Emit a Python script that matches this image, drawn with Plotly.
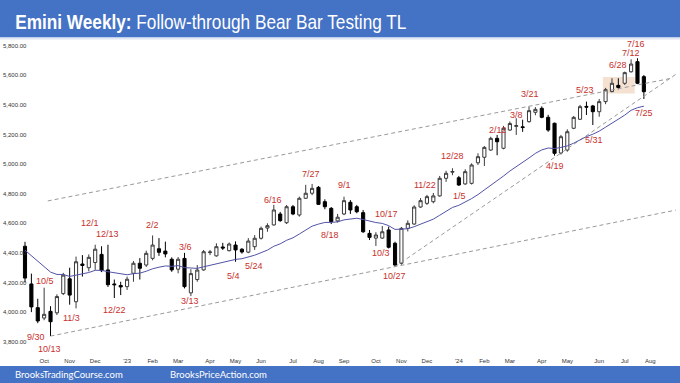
import plotly.graph_objects as go
import pandas as pd

# ---------------- data (weekly Emini, back-adjusted) ----------------
first_week = "2022-09-12"
opens = [4445, 4190, 4030, 3960, 4005, 3995, 4125, 4225, 4070, 4325,
         4300, 4335, 4390, 4285, 4190, 4180, 4172, 4262, 4330, 4318,
         4363, 4428, 4412, 4357, 4290, 4363, 4130, 4220, 4285, 4402,
         4380, 4440, 4415, 4453, 4425, 4405, 4442, 4499, 4568, 4589,
         4663, 4604, 4712, 4656, 4769, 4803, 4843, 4746, 4701, 4616,
         4663, 4742, 4712, 4672, 4532, 4500, 4500, 4555, 4465, 4330,
         4566, 4595, 4710, 4735, 4746, 4785, 4904, 4945, 4908, 4866,
         4870, 5009, 5046, 5095, 5174, 5107, 5230, 5255, 5252, 5287,
         5350, 5377, 5316, 5276, 5075, 5095, 5242, 5303, 5390, 5393,
         5354, 5422, 5490, 5532, 5546, 5624, 5692, 5591]
highs = [4475, 4260, 4090, 4165, 4040, 4120, 4265, 4300, 4375, 4385,
         4390, 4455, 4445, 4455, 4220, 4205, 4240, 4345, 4365, 4415,
         4518, 4500, 4476, 4370, 4372, 4400, 4290, 4318, 4420, 4420,
         4465, 4468, 4470, 4478, 4432, 4500, 4520, 4578, 4600, 4725,
         4677, 4724, 4724, 4780, 4860, 4866, 4852, 4762, 4710, 4663,
         4780, 4757, 4724, 4690, 4555, 4540, 4582, 4578, 4476, 4575,
         4620, 4722, 4770, 4792, 4805, 4920, 4955, 4972, 4920, 4965,
         5005, 5073, 5122, 5185, 5197, 5258, 5288, 5310, 5300, 5390,
         5385, 5390, 5333, 5280, 5197, 5235, 5325, 5400, 5422, 5400,
         5440, 5515, 5580, 5580, 5625, 5708, 5715, 5602]
lows = [4200, 4000, 3925, 3945, 3838, 3980, 4115, 4050, 4025, 4240,
        4275, 4285, 4270, 4170, 4095, 4115, 4150, 4205, 4220, 4305,
        4350, 4380, 4370, 4272, 4262, 4160, 4108, 4205, 4280, 4385,
        4375, 4420, 4410, 4340, 4395, 4398, 4420, 4490, 4543, 4585,
        4610, 4595, 4655, 4645, 4765, 4790, 4725, 4695, 4595, 4605,
        4655, 4663, 4668, 4535, 4487, 4447, 4495, 4430, 4307, 4320,
        4545, 4590, 4705, 4724, 4735, 4780, 4880, 4925, 4852, 4860,
        4862, 4994, 4987, 5090, 5060, 5100, 5225, 5197, 5218, 5280,
        5330, 5310, 5218, 5057, 5065, 5084, 5236, 5298, 5332, 5264,
        5320, 5405, 5485, 5505, 5535, 5618, 5540, 5440]
closes = [4230, 4035, 3940, 3985, 3935, 4105, 4250, 4115, 4340, 4315,
          4370, 4425, 4280, 4185, 4185, 4170, 4222, 4330, 4296, 4397,
          4453, 4404, 4393, 4285, 4357, 4172, 4260, 4284, 4408, 4406,
          4442, 4433, 4460, 4420, 4406, 4480, 4499, 4566, 4584, 4690,
          4618, 4712, 4663, 4769, 4803, 4836, 4728, 4712, 4611, 4641,
          4753, 4690, 4678, 4543, 4505, 4521, 4543, 4438, 4318, 4566,
          4600, 4710, 4753, 4780, 4785, 4904, 4938, 4950, 4859, 4949,
          4994, 5050, 5113, 5174, 5151, 5242, 5274, 5260, 5247, 5361,
          5370, 5316, 5230, 5073, 5185, 5219, 5316, 5388, 5385, 5354,
          5422, 5503, 5546, 5518, 5618, 5676, 5546, 5489]

ema_period = 20
ema_start_value = 4418  # value of the moving average at the first bar, as drawn

# tick labels
tick_weeks = ["2022-10-03", "2022-10-31", "2022-11-28", "2023-01-02", "2023-01-30",
              "2023-02-27", "2023-04-03", "2023-05-01", "2023-05-29", "2023-07-03",
              "2023-07-31", "2023-08-28", "2023-10-02", "2023-10-30", "2023-11-27",
              "2024-01-01", "2024-01-29", "2024-02-26", "2024-04-01", "2024-04-29",
              "2024-06-03", "2024-07-01", "2024-07-29"]
tick_text = ["Oct", "Nov", "Dec", "'23", "Feb", "Mar", "Apr", "May", "Jun", "Jul",
             "Aug", "Sep", "Oct", "Nov", "Dec", "'24", "Feb", "Mar", "Apr", "May",
             "Jun", "Jul", "Aug"]
price_ticks = [3800, 4000, 4200, 4400, 4600, 4800, 5000, 5200, 5400, 5600, 5800]

# swing-point labels: text, bar index, price level of label
label_text = ["9/30", "10/13", "10/5", "11/3", "12/1", "12/13", "12/22", "2/2", "3/6",
              "3/13", "5/4", "5/24", "6/16", "7/27", "8/18", "9/1", "10/3", "10/17",
              "10/27", "11/22", "12/28", "1/5", "2/12", "3/8", "3/21", "4/19", "5/23",
              "5/31", "6/28", "7/12", "7/16", "7/25"]
label_bar = [2, 4, 3, 7, 11, 13, 14, 20, 25, 26, 33, 36, 39, 45, 48, 50, 55, 57,
             58, 63, 67, 68, 74, 77, 79, 83, 88, 89, 93, 95, 96, 97]
label_price = [3832, 3754, 4212, 3960, 4602, 4528, 4014, 4589, 4440, 4072, 4244,
               4312, 4757, 4930, 4518, 4859, 4397, 4666, 4244, 4859, 5055, 4785,
               5230, 5335, 5474, 4984, 5501, 5163, 5673, 5751, 5812, 5345]
label_dx = [-2, -1.5, 1, 2, -5, 0, 0, -0.5, 0.5, -1, -1.6, -0.7, -0.8, -1, -1, 0,
            5, -1.7, -1, -2, 0, 0.3, 1, 0, 1, 0.6, -1, 1, 0, 0, -1, 0]

# trend lines: anchor points (date, price) and date to extend to
tl_end = "2024-08-26"
lower_tl = [("2022-10-10", 3838), ("2023-10-23", 4307)]
steep_tl = [("2023-10-23", 4307), ("2024-04-15", 5045)]
upper_tl = [("2022-10-07", 4751), ("2024-08-23", 5582)]

# trading-range box
box_x = ["2024-06-07", "2024-07-12"]
box_y = [5477, 5588]

# ---------------- build ----------------
dates = pd.date_range(first_week, periods=len(opens), freq="7D")

ema = [ema_start_value]
alpha = 2.0 / (ema_period + 1)
for c in closes[1:]:
    ema.append(ema[-1] + alpha * (c - ema[-1]))


def extend(anchors, end):
    (d0, p0), (d1, p1) = anchors
    t0, t1, te = pd.Timestamp(d0), pd.Timestamp(d1), pd.Timestamp(end)
    slope = (p1 - p0) / (t1 - t0).total_seconds()
    return [t0, te], [p0, p0 + slope * (te - t0).total_seconds()]


fig = go.Figure()

fig.add_shape(type="rect", xref="x", yref="y", x0=box_x[0], x1=box_x[1],
              y0=box_y[0], y1=box_y[1], fillcolor="rgba(240,215,195,0.75)",
              line_width=0, layer="below")

tl_style = dict(color="#9a9a9a", width=1, dash="4px,3px")
for anchors in (lower_tl, steep_tl):
    xs, ys = extend(anchors, tl_end)
    fig.add_trace(go.Scatter(x=xs, y=ys, mode="lines", line=tl_style,
                             hoverinfo="skip", showlegend=False))
fig.add_trace(go.Scatter(x=[pd.Timestamp(upper_tl[0][0]), pd.Timestamp(upper_tl[1][0])],
                         y=[upper_tl[0][1], upper_tl[1][1]], mode="lines",
                         line=tl_style, hoverinfo="skip", showlegend=False))

fig.add_trace(go.Scatter(x=dates, y=ema, mode="lines",
                         line=dict(color="#5252a8", width=1),
                         hoverinfo="skip", showlegend=False))

fig.add_trace(go.Candlestick(
    x=dates, open=opens, high=highs, low=lows, close=closes,
    increasing=dict(fillcolor="white", line=dict(color="#3a3a3a", width=1)),
    decreasing=dict(fillcolor="black", line=dict(color="black", width=1)),
    whiskerwidth=0, showlegend=False))

label_font = dict(family="Liberation Sans, Arial, sans-serif", size=9, color="#c8302c")
for t, b, p, dx in zip(label_text, label_bar, label_price, label_dx):
    fig.add_annotation(x=dates[b], y=p, text=t, showarrow=False, xshift=dx,
                       font=label_font, xanchor="center", yanchor="middle")

# header and footer bands
H_PLOT_TOP, H_PLOT_BOTTOM = 40, 352
PLOT_H = H_PLOT_BOTTOM - H_PLOT_TOP


def py(pix):
    return (H_PLOT_BOTTOM - pix) / PLOT_H


fig.add_shape(type="rect", xref="paper", yref="paper", x0=0, x1=1,
              y0=py(37.5), y1=py(-2), fillcolor="#4472c4", line_width=0)
fig.add_shape(type="rect", xref="paper", yref="paper", x0=0, x1=1,
              y0=py(39.5), y1=py(37.5), fillcolor="#dfe7f4", line_width=0)
fig.add_shape(type="rect", xref="paper", yref="paper", x0=0, x1=1,
              y0=py(386), y1=py(366), fillcolor="#4472c4", line_width=0)

fig.add_annotation(xref="paper", yref="paper", x=13 / 680, y=py(21),
                   xanchor="left", yanchor="middle", showarrow=False,
                   text="<b>Emini Weekly:</b> Follow-through Bear Bar Testing TL",
                   font=dict(family="Liberation Sans, Arial, sans-serif", size=21,
                             color="white"))
foot_font = dict(family="Lato, Open Sans, sans-serif", size=9.5, color="white")
fig.add_annotation(xref="paper", yref="paper", x=12.5 / 680, y=py(374.5),
                   xanchor="left", yanchor="middle", showarrow=False,
                   text="BrooksTradingCourse.com", font=foot_font)
fig.add_annotation(xref="paper", yref="paper", x=168 / 680, y=py(374.5),
                   xanchor="left", yanchor="middle", showarrow=False,
                   text="BrooksPriceAction.com", font=foot_font)

# axis ranges (pixel-matched)
px_per_day = 6.38 / 7
x0 = pd.Timestamp(first_week) - pd.Timedelta(days=25 / px_per_day)
x1 = pd.Timestamp(first_week) + pd.Timedelta(days=655 / px_per_day)
pts_per_px = 1 / 0.148
y_top = 3800 + (341.7 - H_PLOT_TOP) * pts_per_px
y_bot = 3800 - (H_PLOT_BOTTOM - 341.7) * pts_per_px

fig.update_layout(
    width=680, height=383,
    margin=dict(l=0, r=0, t=H_PLOT_TOP, b=383 - H_PLOT_BOTTOM),
    paper_bgcolor="white", plot_bgcolor="white",
    showlegend=False,
    xaxis=dict(type="date", range=[x0, x1], rangeslider=dict(visible=False),
               tickvals=tick_weeks, ticktext=tick_text, showgrid=False,
               zeroline=False, showline=False, ticks="outside", ticklen=3,
               tickcolor="rgba(0,0,0,0)",
               tickfont=dict(family="Liberation Sans, Arial, sans-serif", size=6,
                             color="#333333")),
    yaxis=dict(range=[y_bot, y_top], tickvals=price_ticks,
               ticktext=[f"{v:,.2f}" for v in price_ticks],
               ticklabelposition="inside", showgrid=False, zeroline=False,
               showline=False, ticks="",
               tickfont=dict(family="Liberation Sans, Arial, sans-serif", size=6,
                             color="#333333")),
)

# page without body margin; title drawn in a narrow (condensed) proportion
post = """
document.body.style.margin = '0';
var gd = document.getElementById('{plot_id}');
function narrowTitle() {
  gd.querySelectorAll('.annotation-text').forEach(function (t) {
    if (t.textContent.indexOf('Emini') === 0) {
      t.style.transformBox = 'fill-box';
      t.style.transformOrigin = '0 50%';
      t.style.transform = 'scaleX(0.82)';
    }
  });
}
narrowTitle();
gd.on('plotly_afterplot', narrowTitle);
"""
fig.write_html("out.html", post_script=post,
               config={"responsive": False, "displayModeBar": False})
